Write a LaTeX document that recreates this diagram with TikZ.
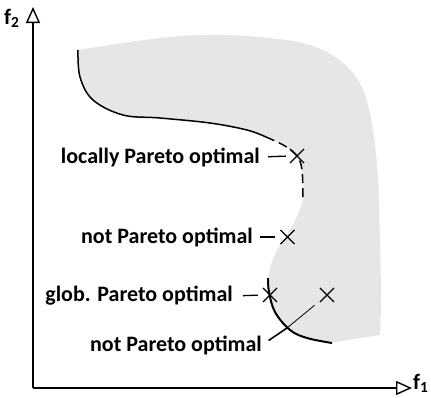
\documentclass[tikz,border=0pt]{standalone}
\usepackage{fontspec}
\setmainfont{Carlito}
\usetikzlibrary{arrows.meta,shapes.misc}
\definecolor{regiongray}{RGB}{230,230,230}
\begin{document}
\begin{tikzpicture}[x=1pt,y=-1pt,
  lbl/.style={font=\bfseries\fontsize{22}{24}\selectfont, inner sep=0pt, anchor=east},
  axislbl/.style={font=\bfseries\fontsize{22}{24}\selectfont, inner sep=0pt},
  xmark/.style={draw, cross out, minimum size=13pt, inner sep=0pt, line width=1.1pt},
  axis/.style={line width=1.6pt, -{Triangle[open, length=16pt, width=14pt, line width=1.4pt]}},
  conn/.style={line width=1.3pt}]
\useasboundingbox (0,0) rectangle (431,397);
% feasible region
\fill[regiongray] (78,50)
  -- plot[smooth, tension=0.6] coordinates {(78,50) (160,38) (210,35) (260,37) (310,45) (343,63) (363,90) (373,130) (378,180) (380,240) (381,300) (380,335)}
  -- (330,343)
  -- plot[smooth, tension=0.6] coordinates {(330,343) (307,338) (290,330) (275,312) (268,292) (270,268) (280,245) (294,223) (303,198) (302,170) (297,156) (285,146) (268,138) (247,130) (210,123) (160,118) (123,115) (93,100) (80,77) (78,50)}
  -- cycle;
% boundary lines
\draw[line width=1.5pt] plot[smooth, tension=0.6] coordinates {(78,50) (80,77) (93,100) (123,115) (160,118) (210,123) (247,130) (266,137)};
\draw[line width=1.5pt, dash pattern=on 9pt off 5pt] plot[smooth, tension=0.6] coordinates {(266,137) (285,146) (297,156) (302,170) (303,200)};
\draw[line width=2pt] plot[smooth, tension=0.6] coordinates {(268,278) (269,292) (275,312) (290,330) (307,338) (332,343)};
% axes
\coordinate (o) at (33,388);
\coordinate (ytip) at (33,7);
\coordinate (xtip) at (412,388);
\draw[axis] (o) -- (ytip);
\draw[axis] (o) -- (xtip);
\node[axislbl, anchor=west] (f2) at (4,18) {f\textsubscript{2}};
\node[axislbl, anchor=west] (f1) at (413,383) {f\textsubscript{1}};
% points
\node[xmark] (x1) at (297,156) {};
\node[xmark] (x2) at (287.5,237) {};
\node[xmark] (x3) at (270,295) {};
\node[xmark] (x4) at (327,295) {};
% labels
\node[lbl] (l1) at (260,157) {locally Pareto optimal};
\node[lbl] (l2) at (253,237) {not Pareto optimal};
\node[lbl] (l3) at (233,296) {glob. Pareto optimal};
\node[lbl] (l4) at (262,345) {not Pareto optimal};
% connectors
\draw[conn, shorten <=8pt, shorten >=4pt] (l1.east) -- (x1.west);
\draw[conn, shorten <=7pt, shorten >=5pt] (l2.east) -- (x2.west);
\draw[conn, shorten <=10pt, shorten >=5pt] (l3.east) -- (x3.west);
\coordinate (m) at (287,328);
\draw[line width=1.6pt, shorten <=8pt] (l4.east) -- (m);
\draw[line width=0.8pt, shorten >=7pt] (m) -- (x4);
\end{tikzpicture}
\end{document}
